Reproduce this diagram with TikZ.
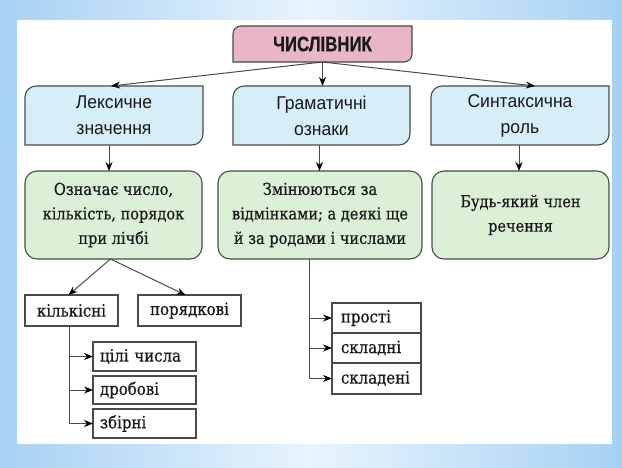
\documentclass[tikz,border=0pt]{standalone}
\usepackage{fontspec}
\setmainfont{DejaVu Serif}
\newfontfamily\boxfont[FakeBold=0.6,FakeStretch=0.88]{DejaVu Serif}
\newfontfamily\headfont[FakeStretch=0.95]{Liberation Sans}
\newfontfamily\titlefont[FakeStretch=0.8,FakeBold=0.5]{Liberation Sans Bold}
\usetikzlibrary{arrows.meta,backgrounds}
\definecolor{frame}{HTML}{A6D1F3}
\definecolor{framelight}{HTML}{E8F4FC}
\definecolor{rose}{HTML}{E9B6C5}
\definecolor{ice}{HTML}{D5EEF8}
\definecolor{mint}{HTML}{DCEFD7}
\definecolor{ink}{HTML}{4A4A4A}

% box with rounded top-left and bottom-right corners
\newcommand{\leafbox}[3]{%
  \draw[ink,line width=1.1pt,fill=#2] (#1.south west) -- ([yshift=-#3]#1.north west)
    arc[start angle=180,end angle=90,radius=#3] -- (#1.north east)
    -- ([yshift=#3]#1.south east) arc[start angle=0,end angle=-90,radius=#3] -- cycle;}

\begin{document}
\begin{tikzpicture}[x=1pt,y=-1pt,
  head/.style={font=\headfont\fontsize{18.5}{26}\selectfont,align=center,text=black!90,outer sep=0pt,inner sep=0pt,minimum width=178pt,minimum height=59pt},
  info/.style={draw=ink,line width=1.1pt,fill=mint,rounded corners=12pt,align=center,outer sep=0pt,minimum height=88pt,text=black!90,font=\boxfont\fontsize{16.5}{24.5}\selectfont},
  kind/.style={draw=ink,line width=1.2pt,fill=white,outer sep=0pt,minimum height=31pt,text=black!90,font=\boxfont\fontsize{17}{20}\selectfont},
  sort/.style={kind,align=left,inner xsep=7pt,text width=#1},
  link/.style={draw=ink,line width=1pt,-{Stealth[length=9pt,width=7pt,black]}}]
  \useasboundingbox (0,0) rectangle (622,467);

  % Top
  \node[font=\titlefont\fontsize{21}{21}\selectfont,text=black!90,outer sep=0pt,minimum width=179pt,minimum height=36pt] (num) at (322.5,44) {ЧИСЛІВНИК};

  % Row 1
  \node[head] (lex) at (114,115.5) {Лексичне\\значення};
  \node[head,minimum width=177pt] (gram) at (321.5,115.5) {Граматичні\\ознаки};
  \node[head] (synt) at (520,115.5) {Синтаксична\\роль};
  \draw[link] (num.south) -- ([xshift=-3pt]lex.north);
  \draw[link] (num.south) -- (num.south |- gram.north);
  \draw[link] (num.south) -- ([xshift=15pt]synt.north);

  % Row 2
  \node[info,minimum width=177pt] (g1) at (113.5,215) {Означає число,\\кількість, порядок\\при лічбі};
  \node[info,minimum width=204pt] (g2) at (320,215) {Змінюються за\\відмінками; а деякі ще\\й за родами і числами};
  \node[info,minimum width=177pt] (g3) at (520.5,215) {Будь-який член\\речення};
  \draw[link] ([xshift=-5pt]lex.south) -- ([xshift=-5pt]lex.south |- g1.north);
  \draw[link] ([xshift=-2pt]gram.south) -- ([xshift=-2pt]gram.south |- g2.north);
  \draw[link] ([xshift=-1pt]synt.south) -- ([xshift=-1pt]synt.south |- g3.north);

  % Kinds
  \node[kind,minimum width=93pt] (kilk) at (71.5,310.5) {кількісні};
  \node[kind,minimum width=103pt] (poryad) at (189.5,310.5) {порядкові};
  \draw[link] ([xshift=-3pt]g1.south) -- ([xshift=-3pt]kilk.north);
  \draw[link] ([xshift=-3pt]g1.south) -- ([xshift=-4pt]poryad.north);

  \node[sort=89pt,minimum height=29pt] (cili) at (144.5,356.5) {цілі числа};
  \node[sort=89pt,minimum height=28pt] (drob) at (144.5,390) {дробові};
  \node[sort=89pt,minimum height=29pt] (zbir) at (144.5,423.5) {збірні};
  \draw[link] ([xshift=-2pt]kilk.south) |- (cili.west);
  \draw[link] ([xshift=-2pt]kilk.south) |- (drob.west);
  \draw[link] ([xshift=-2pt]kilk.south) |- (zbir.west);

  \node[sort=71pt,inner xsep=9pt,minimum height=30pt] (prosti) at (376.5,318) {прості};
  \node[sort=71pt,inner xsep=9pt,minimum height=30pt] (skladni) at (376.5,348) {складні};
  \node[sort=71pt,inner xsep=9pt,minimum height=31pt] (skladeni) at (376.5,378.5) {складені};
  \draw[link] ([xshift=-11pt]g2.south) |- (prosti.west);
  \draw[link] ([xshift=-11pt]g2.south) |- (skladni.west);
  \draw[link] ([xshift=-11pt]g2.south) |- (skladeni.west);

  \begin{scope}[on background layer]
    \shade[left color=frame,right color=frame,middle color=framelight] (0,0) rectangle (622,467);
    \fill[white] (17,20) rectangle (612,444);
    \leafbox{num}{rose}{8pt}
    \leafbox{lex}{ice}{11pt}
    \leafbox{gram}{ice}{11pt}
    \leafbox{synt}{ice}{11pt}
  \end{scope}
\end{tikzpicture}
\end{document}
